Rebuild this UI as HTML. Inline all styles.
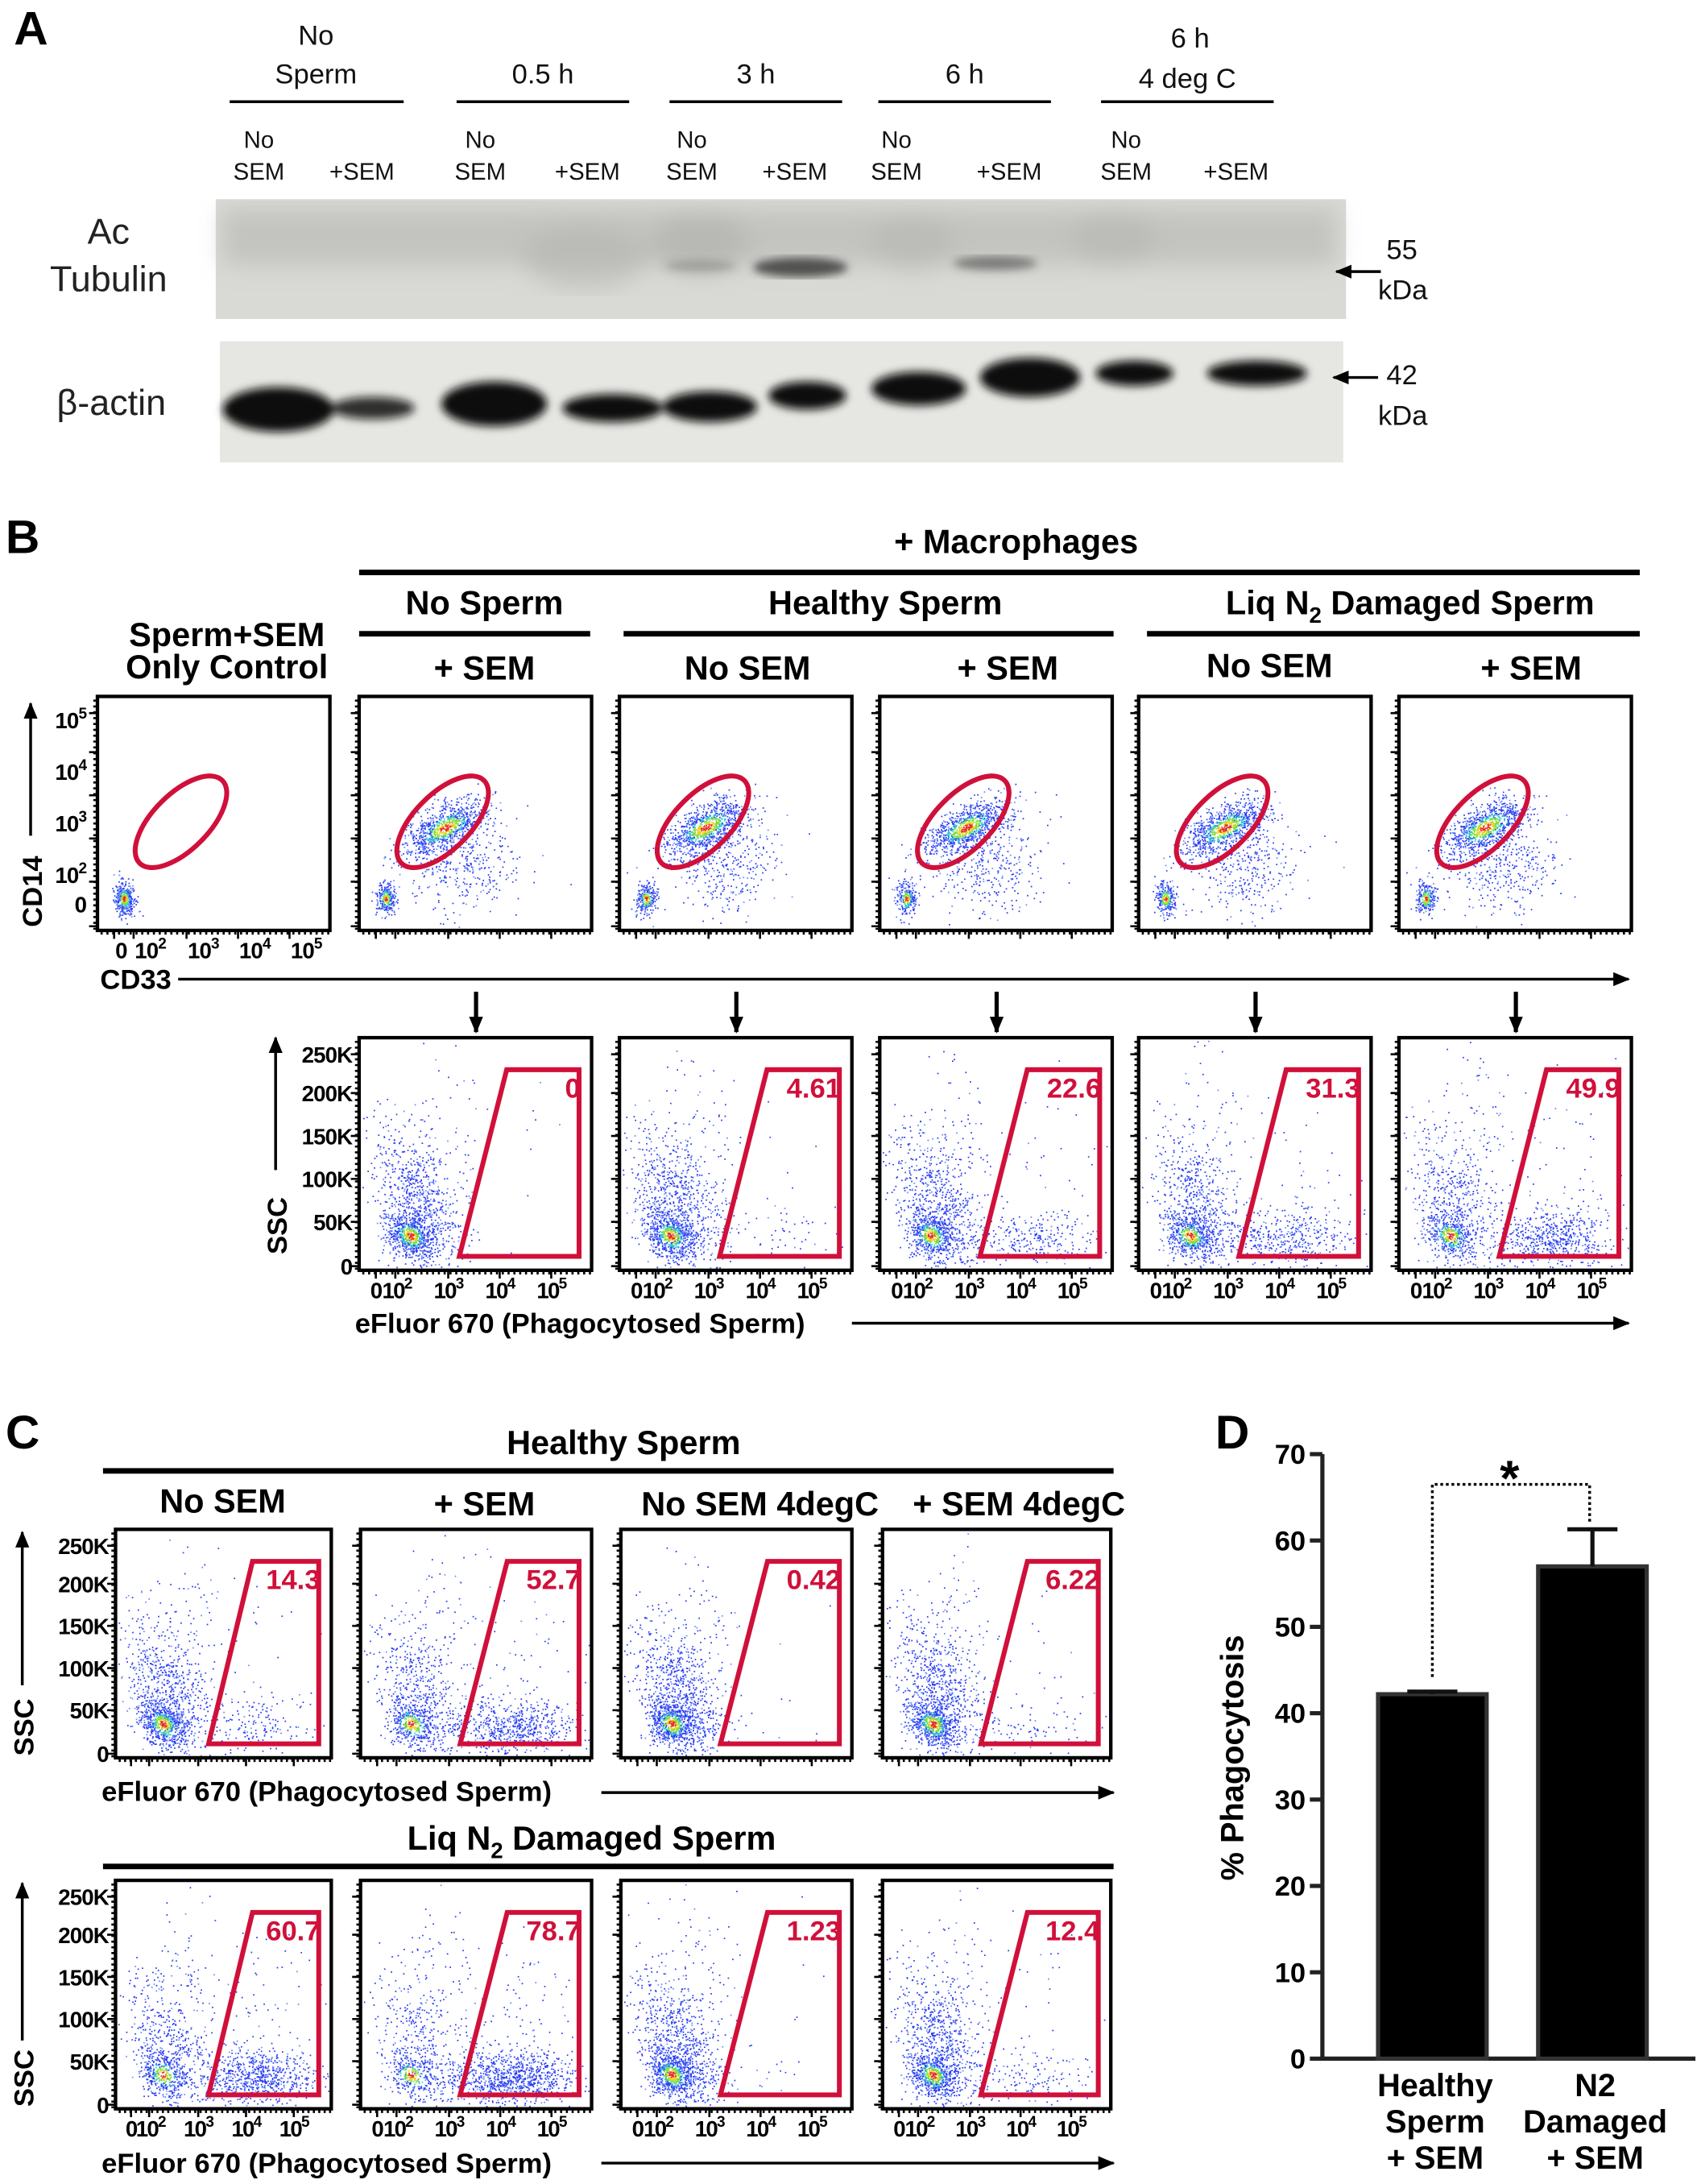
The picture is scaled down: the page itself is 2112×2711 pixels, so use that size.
<!DOCTYPE html>
<html><head><meta charset="utf-8"><style>
html,body{margin:0;padding:0;background:#fff}
svg{display:block}
text{font-family:"Liberation Sans",sans-serif}
.b{font-weight:bold}
</style></head><body>
<svg id="fig" xmlns="http://www.w3.org/2000/svg" width="2112" height="2711" viewBox="0 0 1222 1568" preserveAspectRatio="none">
<defs>
<filter id="blur3"><feGaussianBlur stdDeviation="3"/></filter>
<filter id="blur6"><feGaussianBlur stdDeviation="8"/></filter>
<marker id="ah" markerUnits="userSpaceOnUse" markerWidth="12" markerHeight="10" refX="11" refY="5" orient="auto"><path d="M0,0 L12,5 L0,10 z" fill="#000"/></marker>
</defs>
<!-- Panel A -->
<g>
<text class="b" x="10" y="32" font-size="34">A</text>
<g font-size="20" fill="#111" text-anchor="middle">
<text x="227" y="32">No</text><text x="227" y="60">Sperm</text>
<text x="390" y="60">0.5 h</text><text x="543" y="60">3 h</text><text x="693" y="60">6 h</text>
<text x="855" y="34">6 h</text><text x="853" y="63">4 deg C</text>
</g>
<g stroke="#000" stroke-width="2"><line x1="165" y1="73" x2="290" y2="73"/><line x1="328" y1="73" x2="452" y2="73"/><line x1="481" y1="73" x2="605" y2="73"/><line x1="631" y1="73" x2="755" y2="73"/><line x1="791" y1="73" x2="915" y2="73"/></g>
<g font-size="17" fill="#111" text-anchor="middle">
<text x="186" y="106">No</text><text x="186" y="129">SEM</text><text x="260" y="129">+SEM</text>
<text x="345" y="106">No</text><text x="345" y="129">SEM</text><text x="422" y="129">+SEM</text>
<text x="497" y="106">No</text><text x="497" y="129">SEM</text><text x="571" y="129">+SEM</text>
<text x="644" y="106">No</text><text x="644" y="129">SEM</text><text x="725" y="129">+SEM</text>
<text x="809" y="106">No</text><text x="809" y="129">SEM</text><text x="888" y="129">+SEM</text>
</g>
<text x="78" y="175" font-size="26" text-anchor="middle" fill="#222">Ac</text>
<text x="78" y="209" font-size="26" text-anchor="middle" fill="#222">Tubulin</text>
<text x="80" y="298" font-size="26" text-anchor="middle" fill="#222">β-actin</text>
<rect x="155" y="143" width="812" height="86" fill="#d9d9d5"/>
<g filter="url(#blur6)" fill="#b4b4b0">
<rect x="160" y="150" width="800" height="40" opacity="0.6"/>
<ellipse cx="420" cy="185" rx="45" ry="22" opacity="0.6"/>
<ellipse cx="503" cy="175" rx="35" ry="22" opacity="0.7"/>
<ellipse cx="655" cy="175" rx="30" ry="20" opacity="0.5"/>
<ellipse cx="800" cy="172" rx="30" ry="20" opacity="0.5"/>
</g>
<g filter="url(#blur3)" fill="#444">
<ellipse cx="575" cy="192" rx="34" ry="7" opacity="0.9"/>
<ellipse cx="715" cy="189" rx="30" ry="5" opacity="0.6"/>
<ellipse cx="503" cy="191" rx="26" ry="4" opacity="0.3"/>
</g>
<rect x="158" y="245" width="807" height="87" fill="#e6e6e2"/>
<g filter="url(#blur3)" fill="#111">
<ellipse cx="200" cy="294" rx="40" ry="16"/>
<ellipse cx="268" cy="293" rx="30" ry="8" opacity="0.85"/>
<ellipse cx="355" cy="290" rx="38" ry="16"/>
<ellipse cx="440" cy="293" rx="36" ry="10"/>
<ellipse cx="510" cy="292" rx="34" ry="11"/>
<ellipse cx="580" cy="284" rx="28" ry="10"/>
<ellipse cx="660" cy="279" rx="34" ry="12"/>
<ellipse cx="740" cy="271" rx="36" ry="14"/>
<ellipse cx="815" cy="268" rx="28" ry="9"/>
<ellipse cx="903" cy="268" rx="36" ry="9"/>
</g>
<g font-size="20" fill="#111">
<line x1="992" y1="195" x2="960" y2="195" stroke="#000" stroke-width="2" marker-end="url(#ah)"/>
<text x="996" y="186">55</text><text x="990" y="215">kDa</text>
<line x1="990" y1="271" x2="958" y2="271" stroke="#000" stroke-width="2" marker-end="url(#ah)"/>
<text x="996" y="276">42</text><text x="990" y="305">kDa</text>
</g>
</g>
<!-- Panel B -->
<g>
<text class="b" x="4" y="397" font-size="34">B</text>
<g class="b" font-size="24" text-anchor="middle" fill="#000">
<text x="730" y="397">+ Macrophages</text>
<text x="348" y="441">No Sperm</text>
<text x="636" y="441">Healthy Sperm</text>
<text x="1013" y="441">Liq N<tspan font-size="16" dy="6">2</tspan><tspan dy="-6"> Damaged Sperm</tspan></text>
<text x="348" y="488">+ SEM</text><text x="537" y="488">No SEM</text><text x="724" y="488">+ SEM</text>
<text x="912" y="486">No SEM</text><text x="1100" y="488">+ SEM</text>
<text x="163" y="464">Sperm+SEM</text><text x="163" y="487">Only Control</text>
</g>
<g stroke="#000" stroke-width="4"><line x1="258" y1="411" x2="1178" y2="411"/><line x1="258" y1="455" x2="424" y2="455"/><line x1="448" y1="455" x2="800" y2="455"/><line x1="824" y1="455" x2="1178" y2="455"/></g>
<text class="b" transform="translate(30,640) rotate(-90)" font-size="20" text-anchor="middle">CD14</text>
<line x1="22" y1="600" x2="22" y2="505" stroke="#000" stroke-width="2" marker-end="url(#ah)"/>
<text class="b" x="72" y="710" font-size="20">CD33</text>
<line x1="128" y1="703" x2="1170" y2="703" stroke="#000" stroke-width="2" marker-end="url(#ah)"/>
<g class="b" font-size="16" text-anchor="end" letter-spacing="-0.5">
<text x="62" y="523">10<tspan font-size="11" dy="-7">5</tspan></text>
<text x="62" y="560">10<tspan font-size="11" dy="-7">4</tspan></text>
<text x="62" y="597">10<tspan font-size="11" dy="-7">3</tspan></text>
<text x="62" y="634">10<tspan font-size="11" dy="-7">2</tspan></text>
<text x="62" y="655">0</text>
</g>
<g class="b" font-size="16" text-anchor="middle" letter-spacing="-0.5">
<text x="87" y="688">0</text><text x="108" y="688">10<tspan font-size="11" dy="-7">2</tspan></text><text x="146" y="688">10<tspan font-size="11" dy="-7">3</tspan></text><text x="183" y="688">10<tspan font-size="11" dy="-7">4</tspan></text><text x="220" y="688">10<tspan font-size="11" dy="-7">5</tspan></text>
</g>
<text class="b" transform="translate(206,880) rotate(-90)" font-size="20" text-anchor="middle">SSC</text>
<line x1="198" y1="840" x2="198" y2="745" stroke="#000" stroke-width="2" marker-end="url(#ah)"/>
<text class="b" x="255" y="957" font-size="20">eFluor 670 (Phagocytosed Sperm)</text>
<line x1="612" y1="950" x2="1170" y2="950" stroke="#000" stroke-width="2" marker-end="url(#ah)"/>
</g>
<!-- Panel C -->
<g>
<text class="b" x="4" y="1040" font-size="34">C</text>
<g class="b" font-size="24" text-anchor="middle">
<text x="448" y="1044">Healthy Sperm</text>
<text x="160" y="1086">No SEM</text><text x="348" y="1088">+ SEM</text><text x="546" y="1088">No SEM 4degC</text><text x="732" y="1088">+ SEM 4degC</text>
<text x="425" y="1328">Liq N<tspan font-size="16" dy="6">2</tspan><tspan dy="-6"> Damaged Sperm</tspan></text>
</g>
<g stroke="#000" stroke-width="4"><line x1="74" y1="1056" x2="800" y2="1056"/><line x1="74" y1="1340" x2="800" y2="1340"/></g>
<g class="b" font-size="20">
<text transform="translate(24,1240) rotate(-90)" text-anchor="middle">SSC</text>
<text transform="translate(24,1492) rotate(-90)" text-anchor="middle">SSC</text>
<text x="73" y="1293">eFluor 670 (Phagocytosed Sperm)</text>
<text x="73" y="1560">eFluor 670 (Phagocytosed Sperm)</text>
</g>
<g stroke="#000" stroke-width="2">
<line x1="16" y1="1210" x2="16" y2="1100" marker-end="url(#ah)"/>
<line x1="16" y1="1465" x2="16" y2="1352" marker-end="url(#ah)"/>
<line x1="432" y1="1287" x2="800" y2="1287" marker-end="url(#ah)"/>
<line x1="432" y1="1553" x2="800" y2="1553" marker-end="url(#ah)"/>
</g>
</g>
<g id="plots"></g>
<!-- Panel D -->
<g id="chartD">
<text class="b" x="873" y="1040" font-size="34">D</text>
<text class="b" transform="translate(893,1262) rotate(-90)" font-size="23" text-anchor="middle">% Phagocytosis</text>
</g>
</svg>
<script>
const NS='http://www.w3.org/2000/svg';
function mk(tag,attrs,parent){const e=document.createElementNS(NS,tag);for(const k in attrs)e.setAttribute(k,attrs[k]);parent.appendChild(e);return e;}
// ---------- Panel D bar chart data ----------
const dCategories=[["Healthy","Sperm","+ SEM"],["N2","Damaged","+ SEM"]];
const dValues=[42.2,57.0];
const dErrors=[0.3,4.3];
const dTicks=[0,10,20,30,40,50,60,70];
const D=document.getElementById('chartD');
const y0=1478,yTop=1044,yMax=70,axX=950;
const yS=v=>y0-(v/yMax)*(y0-yTop);
const barCenters=[1029,1144],barW=78;
const axis=mk('path',{d:`M${axX},${yTop} V${y0} H1218`,stroke:'#222','stroke-width':3,fill:'none'},D);


dTicks.forEach(t=>{
  mk('line',{x1:axX-9,x2:axX,y1:yS(t),y2:yS(t),stroke:'#222','stroke-width':3},D);
  const tx=mk('text',{x:axX-12,y:yS(t)+7,'font-size':20,'font-weight':'bold','text-anchor':'end'},D);
  tx.textContent=t;
  
  
});
dValues.forEach((v,i)=>{
  const cx=barCenters[i];
  const r=mk('rect',{x:cx-barW/2,y:yS(v),width:barW,height:y0-yS(v),fill:'#000',stroke:'#333','stroke-width':3},D);
  
  
  const e=mk('path',{d:`M${cx},${yS(v)} V${yS(v+dErrors[i])} M${cx-18},${yS(v+dErrors[i])} H${cx+18}`,stroke:'#111','stroke-width':3,fill:'none'},D);
  
  
  dCategories[i].forEach((s,j)=>{
    const t=mk('text',{x:cx+2,y:1505+j*26,'font-size':23,'font-weight':'bold','text-anchor':'middle'},D);
    t.textContent=s;
    
    
  });
});
const sigY=yS(66.5);
const sig=mk('path',{d:`M${barCenters[0]},${yS(dValues[0]+2)} V${sigY} H${barCenters[1]-2} V${yS(dValues[1]+dErrors[1]+0.8)}`,stroke:'#000','stroke-width':2,'stroke-dasharray':'2,2',fill:'none'},D);


const star=mk('text',{x:(barCenters[0]+barCenters[1])/2-2,y:sigY+8,'font-size':36,'font-weight':'bold','text-anchor':'middle'},D);
star.textContent='*';



// ---------- Flow plots ----------
const gatePercents=["0","4.61","22.6","31.3","49.9"];
const cPercentsHealthy=["14.3","52.7","0.42","6.22"];
const cPercentsN2=["60.7","78.7","1.23","12.4"];
let seed=12345;
function rnd(){seed=(seed*1103515245+12345)&0x7fffffff;return seed/0x7fffffff;}
function gauss(){let u=rnd()||1e-6,v=rnd();return Math.sqrt(-2*Math.log(u))*Math.cos(2*Math.PI*v);}
const P=document.getElementById('plots');
const cols=['#2a3cf0','#6a8cf8','#2fd0d0','#7ee040','#f0d020','#e83020'];
function cloud(g,clusters){
  const buf=cols.map(()=>[]);
  clusters.forEach(c=>{
    for(let i=0;i<c.n;i++){
      const a=gauss(),b=gauss();
      const x=c.x+a*c.sx+b*(c.rot||0)*c.sy, y=c.y+b*c.sy;
      if(x<c.bx0||x>c.bx1||y<c.by0||y>c.by1)continue;
      const d=Math.sqrt(a*a+b*b);
      let k;
      if(c.hot===false)k=rnd()<0.8?0:1;
      else k=d>1.0?(rnd()<0.75?0:1):d>0.7?(rnd()<0.5?0:2):d>0.45?3:d>0.28?4:5;
      buf[k].push(`M${x.toFixed(1)} ${y.toFixed(1)}h1v1h-1z`);
    }
  });
  buf.forEach((arr,k)=>{if(arr.length){const p=mk('path',{d:arr.join(''),fill:cols[k]},g);}});
}
function frame(g,x,y,w,h){
  const r=mk('rect',{x,y,width:w,height:h,fill:'none',stroke:'#000','stroke-width':2.5},g);
  
  
  let d='';
  [12,26,64,101,138].map(v=>v*w/167).forEach(t=>{d+=`M${x+t},${y+h}v6`;});
  for(let t=3;t<w;t+=w/40)d+=`M${x+t},${y+h}v3`;
  for(let t=3;t<h;t+=h/40)d+=`M${x},${y+t}h-3`;
  [12,40,71,102,133,165].forEach(t=>{d+=`M${x},${y+t*h/168}h-6`;});
  mk('path',{d,stroke:'#000','stroke-width':1.5},g);
}
function xTicks(g,x,y,w,h){
  const pos=[12,27,64,101,138].map(v=>x+v*w/167);
  const labs=["0","2","3","4","5"];
  pos.forEach((p,i)=>{
    const t=mk('text',{x:p,y:y+h+20,'font-size':16,'font-weight':'bold','text-anchor':'middle','letter-spacing':'-1'},g);
    if(i===0)t.textContent='0';else{t.textContent='10';const s=mk('tspan',{'font-size':11,dy:-7},t);s.textContent=labs[i];}
  });
}
function yTicks(g,x,y,h){
  ["250K","200K","150K","100K","50K","0"].forEach((l,i)=>{
    const t=mk('text',{x:x-5,y:y+[12,40,71,102,133,165][i]*h/168+6,'font-size':16,'font-weight':'bold','text-anchor':'end','letter-spacing':'-0.5'},g);
    t.textContent=l;
  });
}
function gate(g,x,y,w,h,label){
  const p=mk('polygon',{points:`${x+72*w/167},${y+h-10} ${x+106*w/167},${y+23} ${x+w-9},${y+23} ${x+w-9},${y+h-10}`,fill:'none',stroke:'#d0103a','stroke-width':3.5},g);
  
  
  const t=mk('text',{x:x+w-8,y:y+43,'font-size':20,'font-weight':'bold','text-anchor':'end',fill:'#d0103a'},g);
  t.textContent=label;
  
  
}
function sscPlot(x,y,w,h,label,xt,yt){
  const g=mk('g',{},P);
  
  
  const n=1300, f=parseFloat(label)/100;
  const box={bx0:x+2,bx1:x+w-2,by0:y+2,by1:y+h-2};
  cloud(g,[
    Object.assign({x:x+w*0.22,y:y+h*0.85,sx:w*0.05,sy:h*0.05,rot:0.3,n:Math.round(n*(1-f*0.7)*0.5)},box),
    Object.assign({x:x+w*0.25,y:y+h*0.72,sx:w*0.09,sy:h*0.16,rot:0.3,n:Math.round(n*(1-f*0.7)*0.6),hot:false},box),
    Object.assign({x:x+w*0.33,y:y+h*0.45,sx:w*0.09,sy:h*0.2,n:90,hot:false},box),
    Object.assign({x:x+w*0.66,y:y+h*0.86,sx:w*0.13,sy:h*0.06,n:Math.round(n*f*0.9),hot:false},box),
    Object.assign({x:x+w*0.68,y:y+h*0.6,sx:w*0.15,sy:h*0.2,n:Math.round(120*f+10),hot:false},box)
  ]);
  frame(g,x,y,w,h);
  gate(g,x,y,w,h,label);
  if(xt)xTicks(g,x,y,w,h);
  if(yt)yTicks(g,x,y,h);
}
function cdPlot(x,y,w,h,ctrl){
  const g=mk('g',{},P);
  
  
  const box={bx0:x+2,bx1:x+w-2,by0:y+2,by1:y+h-2};
  const cl=[Object.assign({x:x+19,y:y+145,sx:3.5,sy:6,n:ctrl?400:250},box)];
  if(!ctrl){
    cl.push(Object.assign({x:x+w*0.37,y:y+h*0.56,sx:w*0.07,sy:h*0.06,rot:-0.9,n:900},box));
    cl.push(Object.assign({x:x+w*0.45,y:y+h*0.72,sx:w*0.12,sy:h*0.1,n:350,hot:false},box));
  }
  cloud(g,cl);
  frame(g,x,y,w,h);
  const e=mk('ellipse',{cx:x+60*w/167,cy:y+90*h/168,rx:42*w/167,ry:20*h/168,transform:`rotate(-45 ${x+60*w/167} ${y+90*h/168})`,fill:'none',stroke:'#d0103a','stroke-width':3.5},g);
  
  
}
const topX=[70,258,445,632,818,1005];
topX.forEach((x,i)=>cdPlot(x,500,167,168,i===0));
const botX=[258,445,632,818,1005];
botX.forEach((x,i)=>{
  sscPlot(x,745,167,167,gatePercents[i],true,i===0);
  const a=mk('line',{x1:x+84,y1:712,x2:x+84,y2:741,stroke:'#000','stroke-width':3,'marker-end':'url(#ah)'},P);
  
  
});
const cX=[83,259,446,634],cW=[155,166,166,164];
cX.forEach((x,i)=>sscPlot(x,1098,cW[i],164,cPercentsHealthy[i],false,i===0));
cX.forEach((x,i)=>sscPlot(x,1350,cW[i],164,cPercentsN2[i],true,i===0));
</script>
</body></html>
